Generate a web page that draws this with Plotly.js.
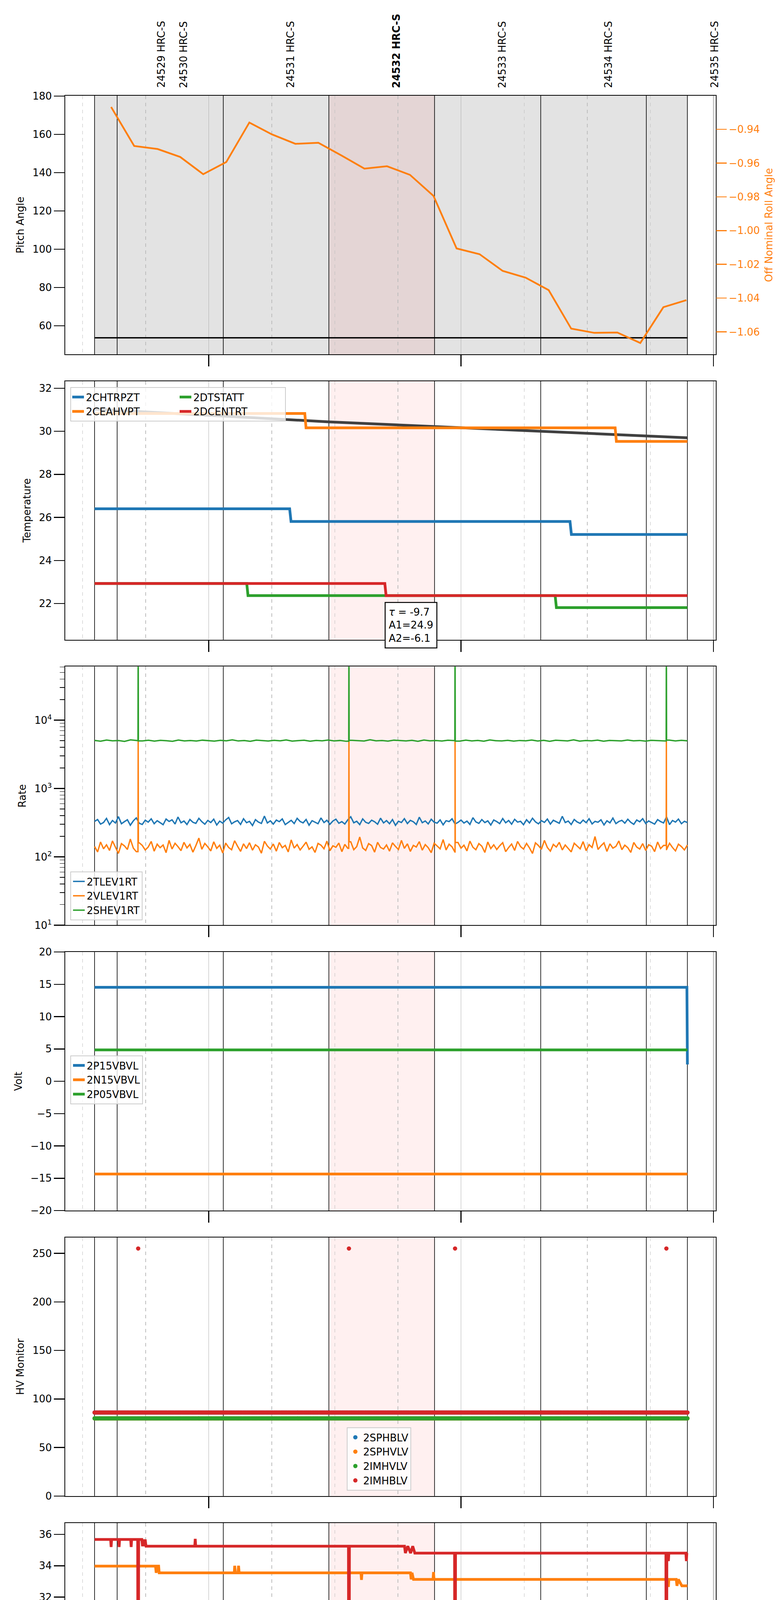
<!DOCTYPE html>
<html>
<head>
<meta charset="utf-8">
<script src="https://cdn.plot.ly/plotly-3.0.1.min.js"></script>
<style>body{margin:0;background:#fff}</style>
</head>
<body>
<div id="graph" style="width:2000px;height:5400px"></div>
<script>
const DAY = "2021-04-04 ";

// observations
const obsIds = ["24529", "24530", "24531", "24532", "24533", "24534", "24535"];
const obsStart = ["11:32:51", "11:38:13", "12:03:27", "12:28:34", "12:53:41", "13:18:56", "13:44:03"];
const obsLabelAt = ["11:48:37", "11:54:00", "12:19:24", "12:44:39", "13:09:46", "13:35:00", "14:00:14"];
const focusObs = "24532";
const focusSpan = ["12:28:34", "12:53:41"];
const dataEnd = "13:53:49";
const glitchTimes = ["11:43:13", "12:33:20", "12:58:34", "13:48:49"];

// panel 1: pitch / roll
const rollTimes = ["11:36:47", "11:42:16", "11:47:51", "11:53:13", "11:58:41", "12:04:10", "12:09:39", "12:15:00",
  "12:20:36", "12:26:04", "12:31:33", "12:37:01", "12:42:23", "12:47:51", "12:53:27", "12:58:56", "13:04:24",
  "13:09:53", "13:15:21", "13:20:50", "13:26:11", "13:31:40", "13:37:09", "13:42:37", "13:48:06", "13:53:34"];
const rollValues = [-0.9268, -0.9499, -0.9517, -0.9564, -0.9666, -0.9594, -0.9360, -0.9430, -0.9486, -0.9480,
  -0.9555, -0.9633, -0.9619, -0.9670, -0.9795, -1.0106, -1.0140, -1.0239, -1.0279, -1.0353, -1.0581, -1.0606,
  -1.0604, -1.0666, -1.0454, -1.0412];
const pitchTimes = ["11:32:51", "13:53:49"];
const pitchValues = [53.7, 53.7];

// panel 2: temperature
const fitTimes = ["11:32:51", "12:28:34", "12:53:41", "13:18:56", "13:53:49"];
const fitValues = [31.03, 30.44, 30.22, 30.00, 29.70];
const fitText = ["τ = -9.7", "A1=24.9", "A2=-6.1"];
const tempNames = ["2CHTRPZT", "2CEAHVPT", "2DTSTATT", "2DCENTRT"];
const tempSeries = [
  [["11:32:51", 26.40], ["12:19:14", 26.40], ["12:19:34", 25.81], ["13:25:54", 25.81], ["13:26:14", 25.21], ["13:53:49", 25.21]],
  [["11:32:51", 30.83], ["12:22:50", 30.83], ["12:23:08", 30.16], ["13:36:38", 30.16], ["13:36:56", 29.53], ["13:53:49", 29.53]],
  [["11:32:51", 22.93], ["12:09:02", 22.93], ["12:09:20", 22.37], ["13:22:22", 22.37], ["13:22:40", 21.81], ["13:53:49", 21.81]],
  [["11:32:51", 22.93], ["12:41:52", 22.93], ["12:42:10", 22.37], ["13:53:49", 22.37]]
];

// panel 3: rates (hand-read samples across the span)
const rateNames = ["2TLEV1RT", "2VLEV1RT", "2SHEV1RT"];
const tlevValues = [330,352,301,318,365,296,340,312,388,305,327,349,290,336,371,310,298,344,322,360,
  305,338,316,295,357,329,348,302,383,315,334,297,352,320,309,366,327,300,341,318,
  356,292,333,311,347,376,304,325,339,298,361,316,330,287,350,322,308,395,313,336,
  301,345,327,359,296,318,342,307,366,329,314,352,290,338,323,305,371,317,343,299,
  334,356,310,327,302,348,385,315,331,296,359,320,308,344,326,300,368,313,339,305,
  351,289,332,318,362,307,342,326,297,380,316,335,303,355,321,311,347,294,338,328,
  360,302,319,345,312,333,298,374,324,309,351,317,336,292,346,328,306,363,315,340,
  300,354,322,331,295,349,313,367,325,304,338,319,357,301,343,327,310,392,318,334,
  297,352,324,309,345,316,361,303,330,321,348,293,337,314,369,306,329,342,311,355,
  320,299,346,326,362,308,335,317,301,350,328,313,384,296,340,322,357,305,331,318];
const vlevValues = [142,118,165,131,150,124,171,138,112,156,145,128,182,134,119,160,147,126,139,168,
  121,153,136,149,115,174,130,158,141,123,163,135,152,117,146,188,129,157,140,122,
  166,133,148,114,159,137,127,172,143,120,155,132,161,125,150,139,113,169,144,130,
  154,121,162,136,147,118,177,134,151,126,143,164,129,140,116,157,148,131,170,123,
  145,138,159,119,152,133,166,127,141,195,135,124,156,146,117,163,137,130,149,121,
  160,142,128,174,133,155,120,147,139,167,125,151,136,115,158,144,131,179,126,153,
  140,118,162,134,148,122,170,138,127,156,143,116,165,132,150,128,145,161,119,137,
  154,124,168,141,130,157,135,112,160,146,129,174,137,121,152,139,163,126,149,133,
  118,158,144,131,167,123,151,137,198,128,145,160,120,155,134,142,171,127,148,136,
  116,162,139,130,156,124,150,143,119,165,132,147,128,158,137,122,153,141,126,149];
const shevValues = [5050,4920,5110,4980,5030,4890,5150,5010,4960,5080,4940,5060,5000,4910,5120,4970,5040,4950,5090,5020,
  4930,5070,4990,5140,4960,5030,4900,5100,5010,4950,5060,4980,5130,4940,5020,5080,4920,5050,4990,5110,
  4960,5040,4910,5070,5000,4950,5160,4980,5030,4930,5090,5010,4970,5060,4900,5120,4990,5040,4950,5080,
  5020,4940,5100,4970,5050,4920,5130,5000,4960,5070,4930,5040,4990,5110,4950,5060,4910,5080,5010,4970,
  5140,4940,5030,4990,5090,4920,5050,5000,4960,5120,4980,5040,4930,5070,5010,4950,5100,4970,5060,4990];
const ratePeaks = [null, 5100, 300000];

// panel 4: volt
const voltNames = ["2P15VBVL", "2N15VBVL", "2P05VBVL"];
const voltSeries = [
  [["11:32:51", 14.54], ["13:53:42", 14.54], ["13:53:49", 2.6]],
  [["11:32:51", -14.34], ["13:53:49", -14.34]],
  [["11:32:51", 4.86], ["13:53:49", 4.86]]
];

// panel 5: hv monitor
const hvNames = ["2SPHBLV", "2SPHVLV", "2IMHVLV", "2IMHBLV"];
const hvLevels = [86, 80, 80, 86];
const hvGlitch = [null, null, null, 255];
const hvSampleCount = 420;

// panel 6: detector temp
const detNames = ["2SPINATM", "2SPHVATM", "2IMINATM", "2IMHVATM"];
const detSeries = [
  [["11:32:51", 21.70], ["13:53:49", 21.70]],
  [["11:32:51", 33.98], ["11:47:20", 33.98], ["11:47:30", 33.55], ["11:47:45", 33.98], ["11:48:05", 33.98], ["11:48:13", 33.55],
   ["12:06:04", 33.55], ["12:06:10", 34.00], ["12:06:20", 33.55], ["12:06:58", 33.55], ["12:07:05", 34.00], ["12:07:14", 33.55],
   ["12:36:12", 33.55], ["12:36:19", 33.10], ["12:36:26", 33.55], ["12:47:58", 33.55], ["12:48:08", 33.13], ["12:48:20", 33.55],
   ["12:48:41", 33.13], ["12:53:20", 33.13], ["12:53:27", 33.60], ["12:53:34", 33.13], ["13:49:11", 33.13], ["13:49:18", 32.65],
   ["13:49:25", 33.13], ["13:51:10", 33.13], ["13:51:20", 32.72], ["13:51:40", 33.13], ["13:52:30", 32.72], ["13:53:49", 32.72]],
  [["11:32:51", 23.15], ["11:42:10", 23.15], ["11:42:20", 22.40], ["11:42:45", 23.15], ["11:43:06", 23.15], ["11:43:13", 10],
   ["11:43:20", 23.15], ["11:44:30", 23.15], ["11:44:40", 22.42], ["11:45:05", 23.15], ["11:45:25", 22.42], ["12:33:13", 22.42],
   ["12:33:20", 10], ["12:33:27", 22.42], ["12:58:27", 22.42], ["12:58:34", 10], ["12:58:41", 22.42], ["13:48:42", 22.42],
   ["13:48:49", 10], ["13:48:56", 22.42], ["13:49:55", 22.42], ["13:50:05", 21.70], ["13:50:40", 22.42], ["13:51:30", 22.42],
   ["13:51:40", 21.70], ["13:53:49", 21.70]],
  [["11:32:51", 35.68], ["11:36:40", 35.68], ["11:36:47", 35.20], ["11:36:54", 35.68], ["11:38:34", 35.68], ["11:38:41", 35.20],
   ["11:38:48", 35.68], ["11:41:26", 35.68], ["11:41:33", 35.20], ["11:41:40", 35.68], ["11:43:06", 35.68], ["11:43:13", 10],
   ["11:43:20", 35.68], ["11:44:05", 35.68], ["11:44:15", 35.25], ["11:44:30", 35.68], ["11:44:45", 35.25], ["11:44:53", 35.68],
   ["11:45:05", 35.25], ["11:56:40", 35.25], ["11:56:47", 35.72], ["11:56:54", 35.25], ["12:33:13", 35.25], ["12:33:20", 10],
   ["12:33:27", 35.25], ["12:46:33", 35.25], ["12:46:45", 34.81], ["12:47:20", 35.25], ["12:48:00", 34.81], ["12:48:30", 35.25],
   ["12:49:00", 34.81], ["12:58:27", 34.81], ["12:58:34", 10], ["12:58:41", 34.81], ["13:48:42", 34.81], ["13:48:49", 10],
   ["13:48:56", 34.81], ["13:49:11", 34.81], ["13:49:18", 34.30], ["13:49:25", 34.81], ["13:53:27", 34.81], ["13:53:34", 34.30],
   ["13:53:41", 34.81], ["13:53:49", 34.81]]
];

// panel 7: FEA temp
const feaNames = ["2FHTRMZT", "2FRADPYT", "2FEPRATM", "2FE00ATM"];
const feaSeries = [
  [["11:32:51", 24.04], ["12:28:05", 24.04], ["12:28:22", 23.48], ["13:31:04", 23.48], ["13:31:20", 22.91], ["13:53:49", 22.91]],
  [["11:32:51", 18.65], ["12:02:45", 18.65], ["12:02:58", 18.15], ["13:00:58", 18.15], ["13:01:10", 17.65], ["13:53:49", 17.65]],
  [["11:32:51", 26.17], ["11:42:30", 26.17], ["11:42:40", 25.40], ["11:42:55", 26.17], ["11:43:06", 26.17], ["11:43:13", 10],
   ["11:43:20", 26.17], ["11:44:10", 26.17], ["11:44:20", 25.40], ["11:44:35", 26.17], ["11:44:53", 25.40], ["12:33:13", 25.40],
   ["12:33:20", 10], ["12:33:27", 25.40], ["12:58:27", 25.40], ["12:58:34", 10], ["12:58:41", 25.40], ["13:14:15", 25.40],
   ["13:14:30", 24.62], ["13:48:42", 24.62], ["13:48:49", 10], ["13:48:56", 24.62], ["13:53:49", 24.62]],
  [["11:32:51", 23.62], ["11:33:27", 23.62], ["11:33:34", 24.00], ["11:33:41", 23.62], ["11:34:39", 23.62], ["11:34:46", 24.00],
   ["11:34:53", 23.62], ["11:43:06", 23.62], ["11:43:13", 10], ["11:43:20", 23.62], ["11:48:56", 23.62], ["11:49:03", 23.28],
   ["11:49:10", 23.62], ["12:10:29", 23.62], ["12:10:40", 23.31], ["12:11:20", 23.62], ["12:12:00", 23.31], ["12:12:30", 23.62],
   ["12:12:51", 23.31], ["12:14:46", 23.31], ["12:14:53", 23.65], ["12:15:00", 23.31], ["12:24:46", 23.31], ["12:24:53", 21.98],
   ["12:25:00", 23.31], ["12:33:13", 23.31], ["12:33:20", 10], ["12:33:27", 23.31], ["12:34:32", 23.31], ["12:34:39", 22.95],
   ["12:34:46", 23.31], ["12:38:34", 23.31], ["12:38:41", 23.65], ["12:38:48", 23.31], ["12:40:29", 23.31], ["12:40:36", 22.95],
   ["12:40:43", 23.31], ["12:54:46", 23.31], ["12:55:00", 22.98], ["12:55:05", 22.60], ["12:55:12", 22.98], ["12:55:40", 23.31],
   ["12:56:20", 22.98], ["12:56:40", 23.31], ["12:57:01", 22.98], ["12:58:27", 22.98], ["12:58:34", 10], ["12:58:41", 22.98],
   ["12:59:32", 22.98], ["12:59:39", 23.30], ["12:59:46", 22.98], ["13:06:19", 22.98], ["13:06:26", 22.60], ["13:06:33", 22.98],
   ["13:08:20", 22.98], ["13:08:27", 24.00], ["13:08:34", 22.98], ["13:09:24", 22.98], ["13:09:31", 22.30], ["13:09:38", 22.98],
   ["13:11:40", 22.98], ["13:11:47", 22.60], ["13:11:54", 22.98], ["13:14:03", 22.98], ["13:14:10", 22.60], ["13:14:17", 22.98],
   ["13:19:46", 22.98], ["13:19:53", 21.67], ["13:20:00", 22.98], ["13:22:59", 22.98], ["13:23:06", 22.60], ["13:23:13", 22.98],
   ["13:31:26", 22.98], ["13:31:33", 23.65], ["13:31:40", 22.98], ["13:43:50", 22.98], ["13:44:00", 22.66], ["13:44:15", 22.98],
   ["13:44:31", 22.66], ["13:45:50", 22.66], ["13:45:57", 23.00], ["13:46:04", 22.66], ["13:47:23", 22.66], ["13:47:30", 23.00],
   ["13:47:37", 22.66], ["13:48:42", 22.66], ["13:48:49", 10], ["13:48:56", 22.66], ["13:53:49", 22.66]]
];

// bottom axis labels
const minuteTickTimes = ["11:30", "11:45", "12:15", "12:30", "12:45", "13:15", "13:30", "13:45"];
const minuteTickText = ["30", "45", "15", "30", "45", "15", "30", "45"];
const hourTickTimes = ["12:00", "13:00", "14:00"];
const hourTickText = ["12h", "13h", "14h"];
const xRange = ["11:25:52", "14:00:34"];

const colors = ["#1f77b4", "#ff7f0e", "#2ca02c", "#d62728"];
const FONT = "DejaVu Sans, sans-serif";

function toSec(s) {
  let p = s.split(":").map(Number);
  return p[0] * 3600 + p[1] * 60 + (p[2] || 0);
}
function stamp(sec) {
  sec = Math.round(sec);
  let pad = n => String(n).padStart(2, "0");
  return DAY + pad(Math.floor(sec / 3600)) + ":" + pad(Math.floor(sec / 60) % 60) + ":" + pad(sec % 60);
}
function fromPairs(pairs) {
  return { x: pairs.map(p => DAY + p[0]), y: pairs.map(p => p[1]) };
}

// rate samples spread evenly over the data span, with the glitch spikes put in
function rateSeries(vals, peak) {
  let a = toSec(obsStart[0]), b = toSec(dataEnd), n = vals.length;
  let pts = vals.map((v, i) => [a + i * (b - a) / (n - 1), v]);
  if (peak) {
    for (let g of glitchTimes) {
      let s = toSec(g);
      let i = pts.findIndex(p => p[0] > s);
      pts.push([s - 3, pts[i - 1][1]], [s, peak], [s + 3, pts[i][1]]);
    }
    pts.sort((p, q) => p[0] - q[0]);
  }
  return { x: pts.map(p => stamp(p[0])), y: pts.map(p => p[1]) };
}

function hvSeries(level, glitch) {
  let a = toSec(obsStart[0]), b = toSec(dataEnd);
  let pts = [];
  for (let i = 0; i < hvSampleCount; i++) pts.push([a + i * (b - a) / (hvSampleCount - 1), level]);
  if (glitch) {
    for (let g of glitchTimes) pts.push([toSec(g), glitch]);
    pts.sort((p, q) => p[0] - q[0]);
  }
  return { x: pts.map(p => stamp(p[0])), y: pts.map(p => p[1]) };
}

let traces = [];

// panel 1
traces.push({ x: pitchTimes.map(t => DAY + t), y: pitchValues, type: "scatter", mode: "lines",
  line: { color: "black", width: 3.5 }, xaxis: "x", yaxis: "y", showlegend: false, hoverinfo: "skip" });
traces.push({ x: rollTimes.map(t => DAY + t), y: rollValues, type: "scatter", mode: "lines",
  line: { color: colors[1], width: 4.5 }, xaxis: "x", yaxis: "y8", showlegend: false, hoverinfo: "skip" });

// panel 2
traces.push({ x: fitTimes.map(t => DAY + t), y: fitValues, type: "scatter", mode: "lines",
  line: { color: "#404040", width: 7 }, xaxis: "x2", yaxis: "y2", showlegend: false, hoverinfo: "skip" });
let tempRank = [1, 3, 2, 4];
tempSeries.forEach((s, i) => {
  let d = fromPairs(s);
  traces.push({ x: d.x, y: d.y, name: tempNames[i], type: "scatter", mode: "lines",
    line: { color: colors[i], width: 7 }, xaxis: "x2", yaxis: "y2", legend: "legend",
    legendgroup: i < 2 ? "c1" : "c2", legendrank: tempRank[i] });
});

// panel 3
[tlevValues, vlevValues, shevValues].forEach((vals, i) => {
  let d = rateSeries(vals, ratePeaks[i]);
  traces.push({ x: d.x, y: d.y, name: rateNames[i], type: "scatter", mode: "lines",
    line: { color: colors[i], width: 3.5 }, xaxis: "x3", yaxis: "y3", legend: "legend2" });
});

// panel 4
voltSeries.forEach((s, i) => {
  let d = fromPairs(s);
  traces.push({ x: d.x, y: d.y, name: voltNames[i], type: "scatter", mode: "lines",
    line: { color: colors[i], width: 7 }, xaxis: "x4", yaxis: "y4", legend: "legend3" });
});

// panel 5
hvNames.forEach((nm, i) => {
  let d = hvSeries(hvLevels[i], hvGlitch[i]);
  traces.push({ x: d.x, y: d.y, name: nm, type: "scatter", mode: "markers",
    marker: { color: colors[i], size: 11 }, xaxis: "x5", yaxis: "y5", legend: "legend4" });
});

// panel 6
detSeries.forEach((s, i) => {
  let d = fromPairs(s);
  traces.push({ x: d.x, y: d.y, name: detNames[i], type: "scatter", mode: "lines",
    line: { color: colors[i], width: 7 }, xaxis: "x6", yaxis: "y6", legend: "legend5" });
});

// panel 7
feaSeries.forEach((s, i) => {
  let d = fromPairs(s);
  traces.push({ x: d.x, y: d.y, name: feaNames[i], type: "scatter", mode: "lines",
    line: { color: colors[i], width: 7 }, xaxis: "x7", yaxis: "y7", legend: "legend6" });
});

// layout
const domains = [[0.86881, 1], [0.72400, 0.85519], [0.57919, 0.71038], [0.43438, 0.56557],
  [0.28957, 0.42076], [0.14476, 0.27595], [0, 0.13114]];
const yTitles = ["Pitch Angle", "Temperature", "Rate", "Volt", "HV Monitor", "Detector Temp", "FEA Temp"];
const yRanges = [[45.1, 180.2], [20.32, 32.33], [1, 4.784], [-20, 20], [0, 266.4], [20.22, 36.74], [16.15, 26.90]];
const yDticks = [20, 2, null, 5, 50, 2, 2];

let layout = {
  width: 2000, height: 5400,
  margin: { l: 167, r: 167, t: 245, b: 109 },
  paper_bgcolor: "white", plot_bgcolor: "rgba(0,0,0,0)",
  font: { family: FONT, size: 26, color: "black" },
  shapes: [], annotations: []
};

let xr = xRange.map(t => DAY + t);
for (let k = 1; k <= 7; k++) {
  let xa = {
    type: "date", range: xr, domain: [0, 1], anchor: k === 1 ? "y" : "y" + k,
    showline: true, mirror: true, linecolor: "black", linewidth: 2,
    tick0: DAY + "12:00:00", dtick: 3600000,
    ticks: "outside", ticklen: 29, tickwidth: 2.5, tickcolor: "black",
    showticklabels: false,
    showgrid: true, gridcolor: "#b0b0b0", gridwidth: 1.5, zeroline: false,
    minor: { tick0: DAY + "12:00:00", dtick: 900000, showgrid: true, gridcolor: "#bdbdbd", gridwidth: 1.5,
      griddash: "dash", ticks: k === 7 ? "outside" : "", ticklen: 8, tickwidth: 1.5, tickcolor: "black" },
    fixedrange: true
  };
  if (k > 1) xa.matches = "x";
  if (k === 7) xa.title = { text: "2021-04-04 (094)", font: { size: 28 }, standoff: 40 };
  layout[k === 1 ? "xaxis" : "xaxis" + k] = xa;

  let ya = {
    domain: domains[k - 1], anchor: k === 1 ? "x" : "x" + k, range: yRanges[k - 1],
    showline: true, mirror: true, linecolor: "black", linewidth: 2,
    ticks: "outside", ticklen: 27, tickwidth: 2.5, tickcolor: "black",
    tickfont: { size: 26 }, showgrid: false, zeroline: false, fixedrange: true,
    title: { text: yTitles[k - 1], font: { size: 26 }, standoff: 14 }
  };
  if (yDticks[k - 1]) { ya.dtick = yDticks[k - 1]; ya.tick0 = 0; }
  if (k === 3) {
    ya.type = "log";
    ya.tickmode = "array";
    ya.tickvals = [10, 100, 1000, 10000];
    ya.ticktext = ["10<sup>1</sup>", "10<sup>2</sup>", "10<sup>3</sup>", "10<sup>4</sup>"];
    let mv = [];
    for (let e = 10; e <= 10000; e *= 10) for (let m = 2; m <= 9; m++) mv.push(m * e);
    ya.minor = { tickmode: "array", tickvals: mv, ticks: "outside", ticklen: 12, tickwidth: 1.5, tickcolor: "black" };
  }
  layout[k === 1 ? "yaxis" : "yaxis" + k] = ya;

  let yref = (k === 1 ? "y" : "y" + k) + " domain";
  let xref = k === 1 ? "x" : "x" + k;
  if (k === 1) {
    layout.shapes.push({ type: "rect", xref: xref, yref: yref, x0: DAY + obsStart[0], x1: DAY + dataEnd,
      y0: 0, y1: 1, fillcolor: "#e3e3e3", line: { width: 0 }, layer: "below" });
  }
  layout.shapes.push({ type: "rect", xref: xref, yref: yref, x0: DAY + focusSpan[0], x1: DAY + focusSpan[1],
    y0: 0, y1: 1, fillcolor: "rgba(255,0,0,0.06)", line: { width: 0 }, layer: "below" });
  for (let t of obsStart.concat([dataEnd])) {
    layout.shapes.push({ type: "line", xref: xref, yref: yref, x0: DAY + t, x1: DAY + t, y0: 0, y1: 1,
      line: { color: "black", width: 1.6 }, layer: "below" });
  }
}

// roll angle axis
layout.yaxis8 = {
  overlaying: "y", side: "right", anchor: "x", range: [-1.0733, -0.9201], dtick: 0.02, tick0: -1,
  tickformat: ".2f", showline: false, showgrid: false, zeroline: false,
  ticks: "outside", ticklen: 27, tickwidth: 2.5, tickcolor: colors[1],
  tickfont: { size: 26, color: colors[1] }, fixedrange: true,
  title: { text: "Off Nominal Roll Angle", font: { size: 26, color: colors[1] }, standoff: 14 }
};

// time labels under the bottom panel, placed on the shared time scale
minuteTickTimes.forEach((t, i) => {
  layout.annotations.push({ x: DAY + t, xref: "x7", y: 0, yref: "paper", yshift: -9,
    xanchor: "center", yanchor: "top", showarrow: false, text: minuteTickText[i], font: { size: 19 } });
});
hourTickTimes.forEach((t, i) => {
  layout.annotations.push({ x: DAY + t, xref: "x7", y: 0, yref: "paper", yshift: -36,
    xanchor: "center", yanchor: "top", showarrow: false, text: hourTickText[i], font: { size: 26 } });
});

// obsid labels
obsIds.forEach((id, i) => {
  layout.annotations.push({
    x: DAY + obsLabelAt[i], xref: "x", y: 1, yref: "paper", yshift: 18,
    xanchor: "center", yanchor: "bottom", textangle: -90, showarrow: false,
    text: id === focusObs ? "<b>" + id + " HRC-S</b>" : id + " HRC-S", font: { size: 26 }
  });
});

// fit box
layout.annotations.push({
  x: DAY + "12:41:49", xref: "x2", y: 0.74316, yref: "paper", xanchor: "left", yanchor: "top",
  showarrow: false, align: "left", bgcolor: "white", bordercolor: "black", borderwidth: 2.5, borderpad: 8,
  text: "<i>" + fitText[0].slice(0, 1) + "</i>" + fitText[0].slice(1) + "<br>" + fitText[1] + "<br>" + fitText[2],
  font: { size: 26 }
});

// legends
const legendBase = { bgcolor: "rgba(255,255,255,0.8)", bordercolor: "#cccccc", borderwidth: 2,
  font: { size: 26 }, xanchor: "left" };
layout.legend = Object.assign({}, legendBase, { x: 0.0078, y: 0.85216, yanchor: "top",
  orientation: "h", traceorder: "grouped", entrywidth: 230 });
layout.legend2 = Object.assign({}, legendBase, { x: 0.0078, y: 0.58165, yanchor: "bottom" });
layout.legend3 = Object.assign({}, legendBase, { x: 0.0078, y: 0.51308, yanchor: "top" });
layout.legend4 = Object.assign({}, legendBase, { x: 0.43277, y: 0.29231, yanchor: "bottom" });
layout.legend5 = Object.assign({}, legendBase, { x: 0.994, y: 0.22771, xanchor: "right", yanchor: "top" });
layout.legend6 = Object.assign({}, legendBase, { x: 0.0078, y: 0.08304, yanchor: "top" });

Plotly.newPlot("graph", traces, layout, { staticPlot: true });
</script>
</body>
</html>
